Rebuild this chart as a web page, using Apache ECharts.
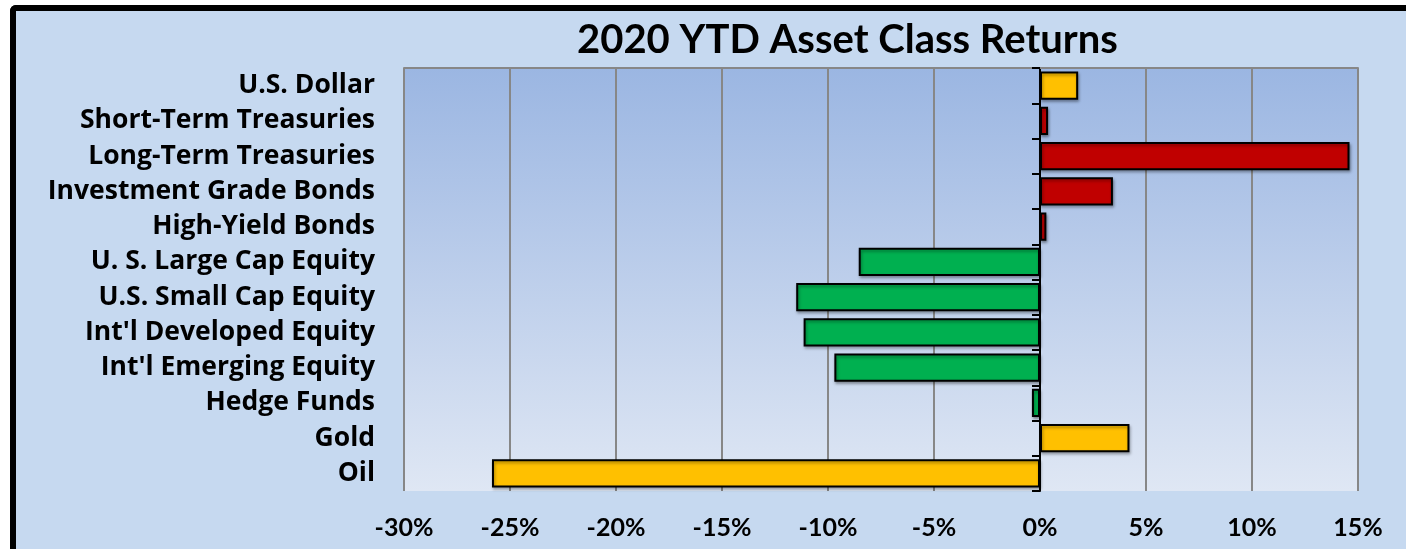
<!DOCTYPE html>
<html>
<head>
<meta charset="utf-8">
<script src="https://cdn.jsdelivr.net/npm/echarts@6/dist/echarts.min.js"></script>
<style>
    body { margin: 0; background: #ffffff; overflow: hidden; }
    .frame {
        position: absolute; left: 10px; top: 5px; width: 1410px; height: 542px;
        background: #c6d9f0;
        border-left: 6px solid #000; border-top: 6px solid #000;
        border-bottom: 1px solid #9aa6b8;
        border-top-left-radius: 6px;
    }
    .chart { position: absolute; left: 0; top: 0; width: 1406px; height: 549px; }
</style>
</head>
<body>
<div class="frame"></div>
<div class="chart"></div>
<script>
//資產類別
const categories = [
    'U.S. Dollar',
    'Short-Term Treasuries',
    'Long-Term Treasuries',
    'Investment Grade Bonds',
    'High-Yield Bonds',
    'U. S. Large Cap Equity',
    'U.S. Small Cap Equity',
    "Int'l Developed Equity",
    "Int'l Emerging Equity",
    'Hedge Funds',
    'Gold',
    'Oil'
];
//年初至今報酬 (%)
const returns = [1.8, 0.38, 14.6, 3.44, 0.3, -8.55, -11.5, -11.15, -9.7, -0.38, 4.22, -25.85];
//資產分組
const groups = ['currency', 'bond', 'bond', 'bond', 'bond', 'equity', 'equity', 'equity', 'equity', 'equity', 'commodity', 'commodity'];
//X軸刻度
const xTicks = [-30, -25, -20, -15, -10, -5, 0, 5, 10, 15];

const groupColor = {
    currency: '#ffc000',
    commodity: '#ffc000',
    bond: '#c00000',
    equity: '#00b050'
};

const font = 'Lato, "Open Sans", sans-serif';
const labelFont = '"Open Sans", Lato, sans-serif';
const myChart = echarts.init(document.querySelector('.chart'));

myChart.setOption({
    animation: false,
    title: {
        text: '2020 YTD Asset Class Returns',
        left: 572,
        top: 15,
        textStyle: { fontFamily: font, fontWeight: 'bold', fontSize: 40, color: '#000' }
    },
    grid: {
        left: 404, right: 48, top: 68, bottom: 58,
        show: true,
        borderWidth: 0,
        backgroundColor: new echarts.graphic.LinearGradient(0, 0, 0, 1, [
            { offset: 0, color: '#9bb6e2' },
            { offset: 1, color: '#dfe7f4' }
        ])
    },
    xAxis: [{
        type: 'value',
        min: xTicks[0],
        max: xTicks[xTicks.length - 1],
        interval: 5,
        axisLine: { show: false },
        axisTick: { show: false },
        splitLine: { lineStyle: { color: '#878787', width: 2 } },
        axisLabel: {
            formatter: '{value}%',
            margin: 24,
            fontFamily: font, fontWeight: 'bold', fontSize: 25, color: '#000'
        }
    }, {
        //頂部邊框
        type: 'value',
        position: 'top',
        min: xTicks[0],
        max: xTicks[xTicks.length - 1],
        interval: 5,
        axisLine: { show: true, lineStyle: { color: '#878787', width: 2 } },
        axisTick: { show: false },
        axisLabel: { show: false },
        splitLine: { show: false }
    }],
    yAxis: [{
        type: 'category',
        data: categories,
        inverse: true,
        position: 'left',
        axisLine: { show: false, onZero: false },
        axisTick: { show: false },
        axisLabel: {
            margin: 29,
            padding: [6, 0, 0, 0],
            fontFamily: labelFont, fontWeight: 'bold', fontSize: 26.5, color: '#000'
        }
    }, {
        //零軸與刻度
        type: 'category',
        data: categories,
        inverse: true,
        position: 'left',
        axisLine: { show: true, onZero: true, lineStyle: { color: '#000', width: 2 } },
        axisTick: { show: true, length: 8, lineStyle: { color: '#000', width: 2 } },
        axisLabel: { show: false }
    }],
    series: [{
        name: '報酬',
        type: 'bar',
        yAxisIndex: 0,
        barCategoryGap: '20%',
        data: returns.map((v, i) => ({
            value: v,
            itemStyle: { color: groupColor[groups[i]] }
        })),
        itemStyle: {
            borderColor: '#000',
            borderWidth: 2,
            shadowColor: 'rgba(0,0,0,0.35)',
            shadowBlur: 3,
            shadowOffsetX: 1,
            shadowOffsetY: 2
        },
        z: 3
    }]
});
</script>
</body>
</html>
